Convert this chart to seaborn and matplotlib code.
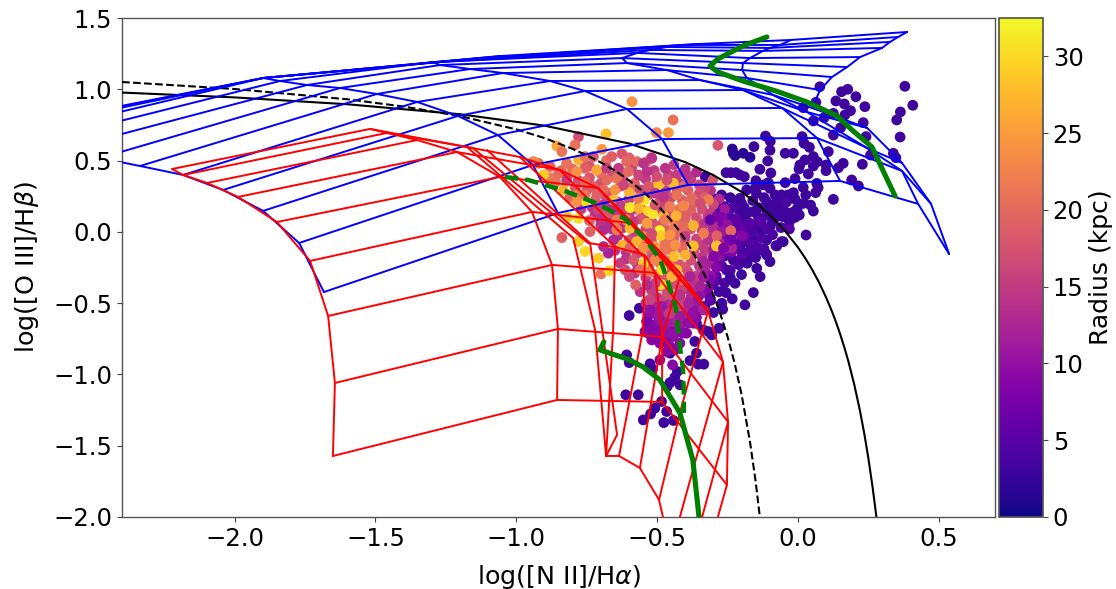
import numpy as np
import pandas as pd
import matplotlib
matplotlib.use("Agg")
import matplotlib.pyplot as plt
import seaborn as sns

sns.set_theme(style="white")
plt.rcParams['font.family'] = ['DejaVu Sans']
plt.rcParams['mathtext.fontset'] = 'dejavusans'
plt.rcParams['text.color'] = 'black'
plt.rcParams['axes.labelcolor'] = 'black'
plt.rcParams['xtick.labelcolor'] = 'black'
plt.rcParams['ytick.labelcolor'] = 'black'

# ---- demarcation curves
kewley_x = [-2.4,-2.0,-1.6,-1.2,-0.9,-0.6,-0.4,-0.3,-0.2,-0.15,-0.1,-0.05,0.0,0.025,0.05,0.075,0.1,0.12,0.135,0.15,0.165,0.18,0.2,0.22,0.235,0.25,0.265,0.279]
kewley_y = [0.977,0.943,0.895,0.825,0.745,0.620,0.489,0.398,0.280,0.206,0.120,0.017,-0.108,-0.181,-0.262,-0.354,-0.459,-0.553,-0.631,-0.716,-0.81,-0.913,-1.069,-1.25,-1.406,-1.583,-1.786,-2.0]
kauff_x = [-2.4,-2.0,-1.6,-1.4,-1.2,-1.0,-0.9,-0.8,-0.75,-0.7,-0.65,-0.6,-0.55,-0.5,-0.45,-0.425,-0.4,-0.375,-0.35,-0.325,-0.3,-0.275,-0.25,-0.225,-0.2,-0.17,-0.15,-0.135]
kauff_y = [1.051,1.002,0.930,0.879,0.812,0.719,0.658,0.582,0.5375,0.487,0.429,0.362,0.283,0.191,0.08,0.016,-0.056,-0.135,-0.225,-0.327,-0.443,-0.577,-0.733,-0.918,-1.14,-1.473,-1.75,-2.0]

# ---- blue model grid (rows x columns)
blue_x = [
 [-1.683,-0.852,-0.390,0.150,0.427,0.537],
 [-1.771,-0.941,-0.482,0.068,0.370,0.473],
 [-1.899,-1.065,-0.607,-0.056,0.246,0.370],
 [-2.041,-1.207,-0.756,-0.195,0.032,0.246],
 [-2.183,-1.352,-0.880,-0.348,-0.088,0.050],
 [-2.336,-1.495,-1.047,-0.465,-0.181,0.079],
 [-2.478,-1.626,-1.164,-0.607,-0.198,0.121],
 [-2.549,-1.743,-1.271,-0.624,-0.195,0.175],
 [-2.620,-1.839,-1.296,-0.571,-0.170,0.221],
 [-2.691,-1.899,-1.271,-0.525,-0.124,0.299],
 [-2.762,-1.899,-1.200,-0.465,-0.099,0.327],
 [-2.762,-1.899,-1.129,-0.408,-0.063,0.356],
 [-2.762,-1.899,-1.058,-0.348,-0.024,0.388],
]
blue_y = [
 [-0.422,0.132,0.329,0.357,0.196,-0.155],
 [-0.078,0.469,0.651,0.658,0.427,0.196],
 [0.147,0.679,0.862,0.869,0.588,0.483],
 [0.294,0.813,0.988,0.995,0.841,0.729],
 [0.399,0.911,1.058,1.065,0.960,0.869],
 [0.462,0.967,1.114,1.135,1.079,0.995],
 [0.518,1.009,1.142,1.184,1.135,1.086],
 [0.609,1.030,1.170,1.219,1.184,1.156],
 [0.672,1.058,1.191,1.255,1.219,1.226],
 [0.708,1.079,1.191,1.276,1.269,1.290],
 [0.722,1.079,1.205,1.297,1.290,1.332],
 [0.736,1.079,1.219,1.311,1.311,1.367],
 [0.743,1.079,1.233,1.318,1.346,1.402],
]

# ---- red model grid
red_a = [(-2.222,0.441),(-1.519,0.722)]
red_b = [(-2.183,0.399),(-1.459,0.694)]
red_c = [(-2.098,0.343),(-1.352,0.644)]
red_d = [(-1.988,0.245),(-1.210,0.560),(-0.845,0.434)]
red_e = [(-1.850,0.069),(-1.058,0.385),(-0.710,0.308),(-0.419,-0.288)]
red_f = [(-1.732,-0.204),(-0.944,0.140),(-0.596,0.062),(-0.319,-0.555)]
red_g = [(-1.668,-0.590),(-0.873,-0.232),(-0.507,-0.288),(-0.266,-0.912)]
red_h = [(-1.644,-1.060),(-0.852,-0.681),(-0.479,-0.737),(-0.248,-1.333)]
red_i = [(-1.651,-1.572),(-0.855,-1.179),(-0.482,-1.193),(-0.252,-1.775)]
red_left = [(-2.222,0.441),(-2.183,0.399),(-2.098,0.343),(-1.988,0.245),(-1.850,0.069),(-1.732,-0.204),(-1.668,-0.590),(-1.644,-1.060),(-1.651,-1.572)]
red_mid = [(-1.519,0.722),(-1.459,0.694),(-1.352,0.644),(-1.210,0.560),(-1.058,0.385),(-0.944,0.140),(-0.873,-0.232),(-0.852,-0.681),(-0.855,-1.179)]
red_top = [(-1.519,0.722),(-1.175,0.595),(-0.987,0.525),(-0.845,0.434),(-0.710,0.308),(-0.596,0.083),(-0.419,-0.288),(-0.319,-0.555),(-0.266,-0.912),(-0.248,-1.333),(-0.252,-1.775),(-0.284,-2.0)]
red_n = [(-1.175,0.595),(-0.798,-0.043),(-0.720,-0.688),(-0.681,-1.572)]
red_o = [(-1.104,0.574),(-0.738,-0.078),(-0.642,-1.424),(-0.681,-1.572)]
red_p = [(-0.987,0.525),(-0.649,-0.106),(-0.656,-0.688),(-0.681,-1.572)]
red_q = [(-0.845,0.434),(-0.543,-0.183),(-0.550,-0.688),(-0.635,-1.572)]
red_r = [(-0.710,0.308),(-0.419,-0.316),(-0.482,-0.737),(-0.561,-1.656)]
red_s = [(-0.596,0.083),(-0.319,-0.555),(-0.419,-1.270),(-0.493,-1.880)]
red_t = [(-0.266,-0.912),(-0.419,-2.0)]
red_u = [(-0.248,-1.333),(-0.340,-2.0)]
red_v = [(-1.459,0.694),(-1.154,0.588),(-0.745,-0.078),(-0.649,-0.106),(-0.543,-0.162),(-0.507,-0.288),(-0.482,-0.737),(-0.482,-1.193)]
red_bottom = [(-0.681,-1.572),(-0.635,-1.572),(-0.561,-1.656),(-0.493,-1.880),(-0.479,-2.0)]

# ---- green model tracks
green_top_x = [-0.110,-0.195,-0.284,-0.312,-0.284,-0.195,-0.078,0.032,0.139,0.196,0.263,0.303,0.345]
green_top_y = [1.367,1.304,1.213,1.163,1.121,1.058,0.988,0.911,0.813,0.708,0.595,0.427,0.252]
green_low_x = [-0.689,-0.703,-0.607,-0.550,-0.490,-0.419,-0.373,-0.351]
green_low_y = [-0.772,-0.828,-0.891,-0.947,-1.038,-1.270,-1.600,-2.0]
green_dash_x = [-1.040,-0.958,-0.827,-0.710,-0.614,-0.543,-0.490,-0.461,-0.433,-0.419,-0.408,-0.405,-0.405]
green_dash_y = [0.385,0.364,0.287,0.196,0.091,-0.049,-0.190,-0.351,-0.534,-0.800,-0.968,-1.130,-1.270]

# ---- galaxy points, (log NII/Ha, log OIII/Hb)
dark_points = [(.380,1.021),(.408,.888),(.364,.841),(.351,.785),(.363,.665),(.339,.551),(.348,.520),(.177,1.000),(.155,.983),(.206,.948),
 (.135,.918),(.165,.897),(.238,.878),(.187,.850),(.167,.820),(.078,1.018),(.064,.909),(.019,.871),(.055,.778),(.093,.801),(.126,.831),(.152,.731),
 (.126,.679),(.232,.766),(.242,.668),(.258,.539),(.229,.474),(.108,.563),(.161,.481),(.144,.450),(.100,.469),(.100,.429),(.191,.364),(.215,.322),
 (.126,.228),(.029,-.022),(-.115,.672),(-.098,.635),(-.156,.598),(-.099,.572),(-.107,.497),(-.045,.551),(-.016,.551),(.015,.668),(.022,.621),
 (.041,.593),(.055,.528),(.069,.492),(.055,.462),(.025,.504),(.007,.469),(.004,.441),(.037,.406),(-.135,.439),(-.096,.413),(-.255,.415),(-.238,.415),
 (-.220,.415),(-.206,.399),(-.190,.387),(-.010,.373),(-.045,.345),(-.105,.345),(-.149,.359),(.019,.312),(.067,.340),(.072,.310),(.063,.275),
 (.028,.259),(-.016,.275),(-.034,.259),(-.058,.259),(-.081,.259),(-.099,.305),(-.123,.329),(-.152,.305),(-.182,.294),(-.147,.270),(-.206,.235),
 (-.271,.259),(-.295,.231),(-.259,.177),(-.223,.188),(-.200,.153),(-.158,.142),(-.111,.212),(-.075,.212),(-.052,.165),(-.087,.153),(.045,.188),
 (.055,.146),(-.002,.165),(.005,.118),(-.010,.102),(-.054,.107),(-.111,.118),(-.135,.060),(-.099,.037),(-.147,.048),(-.182,.072),(-.206,.072),
 (-.289,.137),(-.259,.118),(-.235,.048),(-.058,-.069),(-.078,-.097),(-.111,-.158),(-.099,-.209),(-.147,-.139),(-.182,-.069),(-.206,-.104),(-.253,-.022),
 (-.205,.130),(-.241,.036),(-.182,.060),(-.134,.013),(-.111,-.057),(-.158,-.057),(-.205,-.127),(-.253,-.127),(-.288,-.198),(-.229,-.198),(-.182,-.174),
 (-.111,-.162),(-.146,-.256),(-.134,-.314),(-.223,-.361),(-.288,-.338),(-.253,-.268),(-.052,-.069),(-.075,-.099),(-.277,-.081),(-.283,-.162),
 (-.599,-.587),(-.563,-.536),(-.608,-.863),(-.599,-.917),(-.525,-.926),(-.516,-.963),(-.611,-1.143),(-.567,-1.143),(-.484,-1.190),(-.508,-1.237),
 (-.523,-1.277),(-.549,-1.319),(-.466,-1.260),(-.476,-1.338),(-.442,-1.323),(-.428,-.980),(-.437,-1.020),(-.454,-1.057),(-.464,-1.085),(-.419,-1.073),
 (-.383,-.903),(-.354,-.928),(-.334,-.928),(-.360,-.851),(-.366,-.769),(-.360,-.641),(-.336,-.688),(-.306,-.723),(-.280,-.676),(-.300,-.566),
 (-.267,-.543),(-.188,-.512),(-.233,-.470),(-.255,-.426),(-.158,-.426),(-.350,-.547),(-.318,-.699),(-.454,-.851),(-.329,.387)]
dark_radius = 3.0
navy_points = [(-.233,.581),(-.229,.551),(-.194,.551),(-.223,.535),(-.170,.523)]
navy_radius = 1.5
purple_points = [(-.490,-.898),(-.445,-.933),(-.537,-.629),(-.519,-.571),(-.490,-.664),(-.531,-.711),(-.519,-.758),(-.490,-.781),(-.454,-.804),(-.419,-.781),
 (-.395,-.711),(-.371,-.641),(-.478,-.711),(-.443,-.734),(-.419,-.664),(-.496,-.594),(-.466,-.641),(-.431,-.606),(-.389,-.582),(-.360,-.536),
 (-.502,-.524),(-.460,-.512),(-.419,-.524),(-.377,-.501),(-.478,-.571),(-.448,-.688),(-.407,-.629),(-.472,-.769),(-.437,-.828),(-.508,-.699),
 (-.466,-.840),(-.543,-.699),(-.200,-.027),(-.235,-.139)]
purple_radius = 9.0
# dense dark cluster between the two demarcation lines (x, y, radius)
dark_fill = [(-.28,.20,5),(-.24,.24,3),(-.20,.20,3),(-.16,.22,3),(-.12,.24,3),(-.08,.19,3),(-.04,.21,4),(-.01,.23,3),(.02,.20,3),
 (-.30,.10,5),(-.25,.14,4),(-.22,.09,6),(-.18,.13,3),(-.14,.10,4),(-.11,.15,3),(-.07,.11,3),(-.03,.07,3),(-.015,.14,3),
 (-.30,.04,7),(-.27,.07,5),(-.22,.00,5),(-.18,.02,6),(-.16,.00,4),(-.13,.07,5),(-.09,.07,3),(-.06,.03,4),(-.03,.02,5),
 (-.26,-.05,6),(-.23,-.07,6),(-.19,-.03,7),(-.16,-.09,5),(-.13,-.04,4),(-.09,-.02,4),
 (-.26,-.17,5),(-.23,-.12,7),(-.20,-.18,5),(-.17,-.13,4),(-.14,-.11,4),(-.12,-.12,4),
 (-.27,-.24,5),(-.24,-.27,4),(-.21,-.23,4),(-.18,-.22,3),(-.15,-.18,3),
 (-.29,-.31,6),(-.26,-.36,4),(-.30,-.37,5),(-.24,-.32,3),(-.20,-.30,3),(-.28,-.42,3),(-.31,-.48,4),(-.27,-.50,3),(-.33,-.52,4),
 (-.23,.17,4),(-.19,.17,3),(-.14,.17,3),(-.24,.10,5),(-.20,.03,6),(-.15,.14,3),(-.08,.14,3),(-.17,.06,5),(-.27,.01,8),(-.25,-.10,7),(-.21,-.09,5),(-.11,.02,4),(-.03,.13,3)]
# dense central cloud, underlying layer (x, y, radius)
cloud_fill = [(-.38,.37,15),(-.35,.33,16),(-.31,.29,14),(-.28,.23,13),(-.26,.16,11),(-.27,.10,9),(-.25,.05,10),(-.33,.31,16),(-.40,.44,14),(-.36,.42,13),
 (-.44,.47,15),(-.52,.52,16),(-.60,.52,19),(-.68,.50,20),(-.76,.49,19),(-.84,.43,20),(-.88,.38,22),(-.65,.12,14),(-.59,.06,15),(-.55,.15,18),
 (-.47,.19,18),(-.40,.13,18),(-.36,.06,17),(-.32,.11,15),(-.43,.05,20),(-.51,-.01,19),(-.47,-.09,19),(-.55,-.09,17),(-.35,-.09,15),(-.31,-.01,14),
 (-.28,-.17,10),(-.34,-.18,14),(-.40,-.25,18),(-.46,-.25,19),(-.52,-.18,17),(-.44,-.36,18),(-.48,-.34,18),(-.38,-.34,15),(-.35,-.36,13),(-.42,-.43,16),
 (-.46,-.52,15),(-.42,-.52,15),(-.39,-.53,12),(-.50,-.51,12),(-.47,-.61,12),(-.43,-.60,12),
 (-.80,.44,20),(-.74,.46,18),(-.70,.41,20),(-.63,.42,17),(-.59,.45,16),(-.55,.39,15),(-.51,.43,15),
 (-.86,.35,21),(-.82,.39,20),(-.78,.36,17),(-.74,.38,18),(-.70,.34,18),(-.66,.39,17),(-.62,.36,17),(-.58,.34,19),(-.54,.37,15),(-.50,.35,15),(-.46,.40,16),(-.42,.34,15),
 (-.79,.31,18),(-.75,.29,18),(-.71,.31,17),(-.67,.27,18),(-.63,.32,18),(-.59,.31,20),(-.55,.27,17),(-.51,.31,16),(-.47,.29,15),(-.43,.30,18),(-.39,.29,19),(-.35,.27,17),
 (-.81,.24,19),(-.72,.22,18),(-.68,.24,17),(-.64,.21,18),(-.60,.23,16),(-.56,.20,18),(-.53,.26,16),(-.49,.21,16),(-.45,.24,17),(-.41,.22,19),(-.37,.20,20),(-.33,.24,19),(-.30,.19,16),
 (-.77,.16,15),(-.73,.17,14),(-.66,.17,13),(-.62,.14,16),(-.58,.16,17),(-.54,.12,17),(-.50,.16,15),(-.46,.14,18),(-.42,.16,21),(-.38,.15,19),(-.34,.16,17),(-.31,.13,15),
 (-.72,.12,14),(-.68,.10,13),(-.64,.06,14),(-.60,.12,15),(-.56,.09,18),(-.52,.08,17),(-.48,.06,19),(-.44,.08,20),(-.40,.09,19),(-.36,.10,17),(-.33,.06,14),(-.30,.08,13),
 (-.70,.05,14),(-.66,.02,13),(-.62,.03,14),(-.58,-.01,15),(-.54,.02,16),(-.50,.04,18),(-.46,.01,19),(-.42,.00,20),(-.38,.02,18),(-.34,.01,15),(-.30,.03,13),(-.27,.00,11),
 (-.64,-.03,13),(-.60,-.06,17),(-.56,-.05,18),(-.52,-.06,17),(-.48,-.04,20),(-.44,-.05,19),(-.40,-.07,19),(-.36,-.05,16),(-.32,-.06,14),(-.28,-.07,12),
 (-.65,-.13,14),(-.61,-.14,14),(-.57,-.15,16),(-.53,-.12,19),(-.49,-.14,20),(-.45,-.13,21),(-.41,-.12,20),(-.37,-.14,17),(-.33,-.13,15),(-.30,-.12,12),(-.27,-.13,9),
 (-.61,-.19,14),(-.57,-.23,15),(-.53,-.24,18),(-.49,-.22,21),(-.45,-.20,20),(-.42,-.23,18),(-.38,-.20,17),(-.35,-.24,15),(-.31,-.22,12),(-.29,-.25,9),
 (-.58,-.29,14),(-.54,-.32,15),(-.50,-.30,17),(-.47,-.28,18),(-.43,-.31,19),(-.39,-.28,17),(-.36,-.31,15),(-.33,-.27,12),(-.31,-.31,10),
 (-.56,-.42,14),(-.52,-.41,15),(-.49,-.38,17),(-.46,-.41,18),(-.43,-.37,17),(-.40,-.40,16),(-.37,-.37,14),(-.34,-.43,11),(-.32,-.40,9),
 (-.54,-.50,13),(-.50,-.46,14),(-.47,-.48,16),(-.44,-.46,17),(-.41,-.49,16),(-.38,-.46,13),(-.36,-.50,11),
 (-.53,-.58,10),(-.49,-.55,11),(-.46,-.58,13),(-.43,-.55,14),(-.40,-.57,13),(-.37,-.55,10),
 (-.52,-.65,9),(-.49,-.62,10),(-.45,-.63,12),(-.42,-.66,11),(-.39,-.64,10),(-.36,-.60,9),
 (-.50,-.72,9),(-.47,-.70,10),(-.44,-.72,10),(-.41,-.71,9)]
core_points = [(-.472,-.477,16),(-.431,-.501,15),(-.460,-.559,14),(-.528,-.477,18),(-.284,.607,18),(-.443,.785,21),(-.589,.913,24),(-.502,.696,23),(-.460,.696,25),
 (-.303,.359,18),(-.238,.008,20),(-.289,-.099,27),(-.259,-.115,14),(-.235,-.110,12),
 (-.779,.668,17),(-.681,.687,28),(-.791,.610,21),(-.856,.603,26),(-.838,.563,21),(-.696,.579,25),(-.779,.505,27),(-.756,.528,21),(-.821,.481,21),(-.880,.458,20),
 (-.921,.481,21),(-.939,.493,23),(-.726,.528,18),(-.661,.528,19),(-.625,.547,18),(-.608,.493,20),(-.572,.493,20),(-.536,.493,21),(-.519,.516,14),(-.548,.481,14),
 (-.471,.446,14),(-.430,.399,15),(-.394,.399,14),(-.442,.341,28),(-.489,.341,28),(-.501,.318,28),(-.714,.434,26),(-.756,.446,19),(-.785,.423,24),(-.821,.364,15),
 (-.850,.411,20),(-.904,.399,29),(-.832,.294,27),(-.679,.446,15),(-.637,.446,15),(-.643,.376,21),(-.679,.364,20),(-.602,.423,20),(-.566,.399,16),(-.536,.423,14),
 (-.501,.388,17),(-.465,.364,17),(-.406,.318,20),(-.377,.236,20),(-.317,.224,22),(-.347,.201,17),(-.394,.130,19),(-.756,.353,20),(-.726,.318,19),(-.690,.294,20),
 (-.649,.294,24),(-.598,.275,27),(-.619,.329,16),(-.560,.294,16),(-.531,.318,18),(-.507,.271,15),(-.477,.247,14),(-.430,.259,21),(-.454,.177,22),(-.406,.182,23),
 (-.477,.112,27),(-.432,.112,27),(-.785,.259,22),(-.785,.212,24),(-.750,.205,30),(-.714,.259,19),(-.756,.259,21),(-.655,.224,28),(-.690,.189,14),(-.708,.154,16),
 (-.673,.130,18),(-.631,.189,15),(-.596,.170,31),(-.563,.166,27),(-.545,.224,31),(-.531,.147,30),(-.515,.126,31),(-.566,.236,22),(-.507,.189,18),(-.817,.102,29),
 (-.779,.095,30),(-.740,.079,19),(-.700,.088,14),(-.667,.060,13),(-.643,.084,22),(-.610,.084,26),(-.584,.072,15),(-.536,.060,25),(-.491,.009,32),(-.487,-.028,29),
 (-.471,.084,22),(-.439,.037,22),(-.406,.037,20),(-.371,.044,27),(-.335,-.010,22),(-.288,-.028,19),(-.288,-.099,28),(-.371,-.099,28),(-.400,-.033,15),(-.738,.002,19),
 (-.690,.014,13),(-.643,.014,22),(-.596,.025,28),(-.548,-.033,23),(-.519,-.014,17),(-.454,-.021,24),(-.436,-.092,24),(-.471,-.092,21),(-.507,-.103,25),(-.400,-.164,27),
 (-.439,-.173,28),(-.483,-.162,21),(-.779,-.068,29),(-.756,-.138,30),(-.708,-.185,29),(-.838,-.040,19),(-.673,-.150,12),(-.690,-.103,13),(-.625,-.092,27),(-.596,-.115,19),
 (-.572,-.068,27),(-.548,-.115,24),(-.655,-.057,13),(-.631,-.220,15),(-.584,-.197,18),(-.548,-.220,29),(-.507,-.197,23),(-.699,-.295,21),(-.670,-.274,30),(-.598,-.314,16),
 (-.576,-.372,19),(-.613,-.267,17),(-.560,-.267,20),(-.525,-.279,22),(-.483,-.267,30),(-.483,-.372,30),(-.430,-.267,28),(-.448,-.314,27),(-.406,-.337,20),(-.465,-.431,17),
 (-.507,-.360,15),(-.536,-.372,13),(-.525,-.477,16),(-.460,-.512,13),(-.418,-.442,14),(-.377,-.419,13),(-.347,-.384,12),(-.335,-.548,12),(-.383,-.314,12),(-.424,-.524,16),
 (-.388,-.501,12),(-.483,-.524,11),(-.454,-.571,15),(-.495,-.583,11),(-.525,-.548,10),(-.536,-.629,8),(-.465,-.641,11),(-.418,-.594,11),(-.377,-.583,10),(-.353,-.454,10),
 (-.312,-.337,8),(-.312,-.466,6),(-.335,-.209,12),(-.300,-.173,9),(-.264,-.115,8),(-.240,-.057,7),(-.335,-.314,11),(-.288,.107,8),(-.312,.084,6)]

radius_max = 32.5
x_ticks = [-2.0,-1.5,-1.0,-0.5,0.0,0.5]
y_ticks = [-2.0,-1.5,-1.0,-0.5,0.0,0.5,1.0,1.5]
cbar_ticks = [0,5,10,15,20,25,30]

W, H = 1116, 589
fig = plt.figure(figsize=(W/100, H/100), dpi=100)
ax = fig.add_axes([122/W, 1-517/H, (995-122)/W, (517-18)/H])
cax = fig.add_axes([999/W, 1-517/H, 44/W, (517-18)/H])

def line(xs, ys, color, lw, **kw):
    sns.lineplot(x=list(xs), y=list(ys), color=color, linewidth=lw, sort=False, estimator=None, ax=ax, zorder=3, **kw)

rows = [(p[0], p[1], dark_radius) for p in dark_points] + [(p[0], p[1], navy_radius) for p in navy_points] \
     + dark_fill + [(p[0], p[1], purple_radius) for p in purple_points] + cloud_fill + core_points
df = pd.DataFrame(rows, columns=["x", "y", "r"])
sns.scatterplot(data=df, x="x", y="y", hue="r", palette="plasma", hue_norm=(0, radius_max),
                s=60, linewidth=0, legend=False, ax=ax, zorder=2)

line(kewley_x, kewley_y, "black", 1.5)
line(kauff_x, kauff_y, "black", 1.5, linestyle="--")

bx, by = np.array(blue_x), np.array(blue_y)
for i in range(bx.shape[0]):
    line(bx[i], by[i], "#0000ff", 1.4)
for j in range(bx.shape[1]):
    line(bx[:, j], by[:, j], "#0000ff", 1.4)

for seg in [red_a, red_b, red_c, red_d, red_e, red_f, red_g, red_h, red_i, red_left, red_mid, red_top,
            red_n, red_o, red_p, red_q, red_r, red_s, red_t, red_u, red_v, red_bottom]:
    line([p[0] for p in seg], [p[1] for p in seg], "#ff0000", 1.4)

line(green_top_x, green_top_y, "green", 3.7)
line(green_low_x, green_low_y, "green", 3.7)
line(green_dash_x, green_dash_y, "green", 3.2, linestyle=(0, (3.0, 1.6)))

ax.set_xlim(-2.4, 0.7)
ax.set_ylim(-2.0, 1.5)
ax.set_xticks(x_ticks)
ax.set_yticks(y_ticks)
ax.set_xlabel(r"log([N II]/H$\alpha$)", fontsize=18.3, labelpad=9)
ax.set_ylabel(r"log([O III]/H$\beta$)", fontsize=18.3, labelpad=9)
ax.tick_params(axis="both", labelsize=17.5, length=3.5, width=0.8, color="#444444", left=True, bottom=True)
for s in ax.spines.values():
    s.set_color("#555555")
    s.set_linewidth(1.0)

sm = plt.cm.ScalarMappable(norm=plt.Normalize(0, radius_max), cmap="plasma")
cb = fig.colorbar(sm, cax=cax, ticks=cbar_ticks)
cb.set_label("Radius (kpc)", fontsize=18.0, labelpad=4)
cb.ax.tick_params(labelsize=17.5, length=3.5, width=0.8, color="#444444", right=True)
cb.outline.set_edgecolor("#555555")

fig.savefig("out.png", dpi=100, facecolor="white")
